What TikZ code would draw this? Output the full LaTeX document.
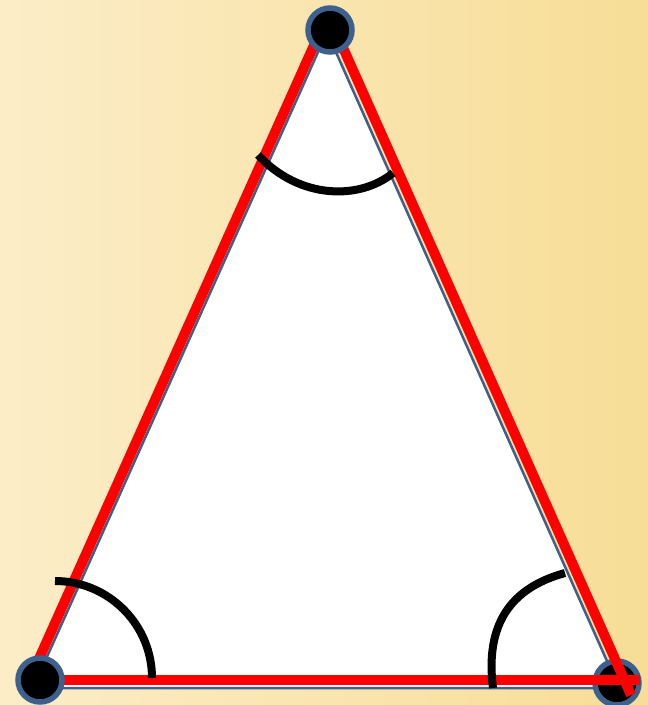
\documentclass[tikz,border=0pt]{standalone}
\usepackage{tikz}
\usetikzlibrary{calc}

\definecolor{bgleft}{RGB}{252,237,200}
\definecolor{bgright}{RGB}{247,221,150}
\definecolor{edgeblue}{RGB}{62,96,140}
\definecolor{sidered}{RGB}{255,0,0}

\begin{document}
\begin{tikzpicture}[
    x=1pt, y=-1pt,
    side/.style={draw=sidered, line width=10pt, line join=round},
    vertex/.style={circle, fill=black, draw=edgeblue, line width=5.5pt,
                   minimum size=44pt, inner sep=0pt},
    anglemark/.style={draw=black, line width=8pt}
  ]
    % background
    \shade[left color=bgleft, right color=bgright] (0,0) rectangle (648,705);
    \useasboundingbox (0,0) rectangle (648,705);

    % corners of the white triangle
    \coordinate (T) at (327,32);
    \coordinate (L) at (33,688);
    \coordinate (R) at (619,688);
    \fill[white, draw=edgeblue, line width=2.5pt] (T) -- (L) -- (R) -- cycle;

    % the right dot sits under the red sides
    \node[vertex] (dotR) at (617,683) {};

    % red sides
    \coordinate (apex) at (328,14);
    \coordinate (redL) at (29.5,680);
    \coordinate (redR) at (631,695);
    \coordinate (baseL) at (40,680);
    \coordinate (baseR) at (640,680);
    \draw[side] (redL) -- (apex) -- (redR);
    \draw[side] (baseL) -- (baseR);

    \node[vertex] (dotT) at (330,30) {};
    \node[vertex] (dotL) at (40,680) {};

    % angle marks
    \coordinate (aT1) at (258,155);
    \coordinate (aT2) at (393,173);
    \draw[anglemark] (aT1) .. controls (300,200) and (360,200) .. (aT2);
    \coordinate (aL1) at (55,581);
    \draw[anglemark] (aL1) arc[start angle=-90, end angle=0, radius=97];
    \coordinate (aR1) at (565,573);
    \coordinate (aR2) at (493,688);
    \draw[anglemark] (aR1) .. controls (510,588) and (485,625) .. (aR2);
\end{tikzpicture}
\end{document}
